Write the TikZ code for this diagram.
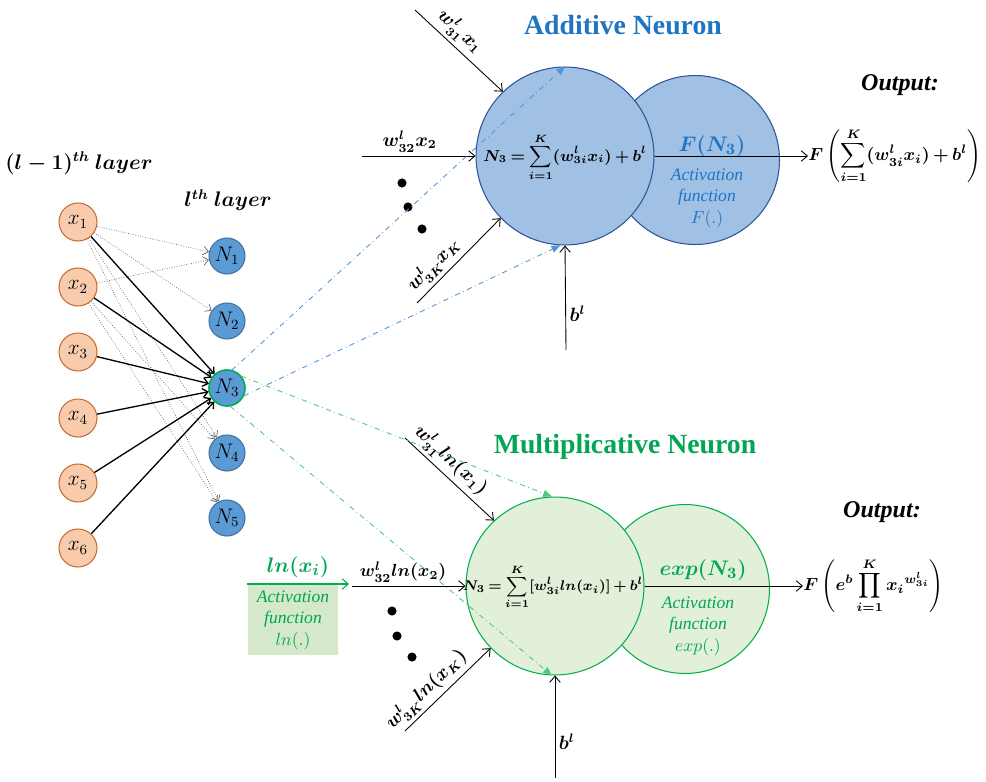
\documentclass[tikz,border=0pt]{standalone}
\usepackage{amsmath}
\usepackage{amssymb}
\usepackage{fontspec}
\setmainfont{Liberation Serif}
\usetikzlibrary{arrows.meta}

\definecolor{inorange}{RGB}{248,203,173}
\definecolor{inbrown}{RGB}{197,110,50}
\definecolor{nblue}{RGB}{91,155,213}
\definecolor{nbluedark}{RGB}{65,113,156}
\definecolor{addfill}{RGB}{160,192,228}
\definecolor{adddraw}{RGB}{47,85,151}
\definecolor{addtext}{RGB}{31,117,196}
\definecolor{dashblue}{RGB}{80,150,215}
\definecolor{mulfill}{RGB}{226,240,217}
\definecolor{muldraw}{RGB}{0,176,80}
\definecolor{multext}{RGB}{0,166,81}
\definecolor{dashgreen}{RGB}{80,200,125}
\definecolor{lnfill}{RGB}{213,232,202}

\newcommand{\tightmu}{\thickmuskip=3.5mu\relax\medmuskip=3mu\relax\displaystyle}

\begin{document}
\begin{tikzpicture}[x=0.02cm,y=-0.02cm,
  xnode/.style={circle,draw=inbrown,fill=inorange,line width=0.6pt,minimum size=0.76cm,inner sep=0pt,font=\fontsize{12}{14}\selectfont},
  nnode/.style={circle,draw=nbluedark,fill=nblue,line width=0.6pt,minimum size=0.72cm,inner sep=0pt,font=\fontsize{12}{14}\selectfont},
  thinarr/.style={-{Straight Barb[length=3pt,width=5pt]},black!60,densely dotted,line width=0.4pt},
  mainarr/.style={-{Straight Barb[length=3pt,width=5pt]},black,line width=0.75pt},
  inarr/.style={-{Straight Barb[length=3.5pt,width=6pt]},black,line width=0.5pt},
  dashto/.style={-{Triangle[length=5pt,width=4pt]},dash dot,line width=0.5pt},
  bigcirc/.style={circle,line width=0.6pt,inner sep=0pt},
  lab/.style={font=\boldmath\fontsize{10.5}{12}\selectfont,inner sep=2pt},
  sumlab/.style={font=\boldmath\fontsize{8.6}{10}\selectfont,inner sep=0pt},
  outfml/.style={font=\boldmath\fontsize{10}{12}\selectfont,inner sep=0pt,anchor=west},
  fnlab/.style={font=\boldmath\fontsize{12.5}{14}\selectfont},
  actlab/.style={font=\itshape\fontsize{10}{12.2}\selectfont,align=center},
  titlelab/.style={font=\bfseries\fontsize{15.8}{18}\selectfont},
  outlab/.style={font=\bfseries\itshape\fontsize{13.7}{16}\selectfont},
  layerlab/.style={font=\boldmath\fontsize{11.5}{14}\selectfont}]
\useasboundingbox (0,0) rectangle (986,781);

% previous and current layer
\node[layerlab] (prevlayer) at (79,163) {$(l-1)^{th}\ layer$};
\node[layerlab] (curlayer) at (228,200) {$l^{th}\ layer$};
\foreach \i/\yy in {1/222,2/287,3/352,4/418,5/483,6/548}
  \node[xnode] (x\i) at (78,\yy) {$x_{\i}$};
\foreach \i/\yy in {1/256,2/321,3/388,4/453,5/518}
  \node[nnode] (n\i) at (227,\yy) {$N_{\i}$};
\node[nnode,draw=muldraw,line width=0.9pt] at (n3) {$N_3$};

\foreach \a/\b in {1/1,1/2,1/4,1/5,2/1,2/4,2/5}
  \draw[thinarr] (x\a) -- (n\b);
\foreach \a in {1,...,6}
  \draw[mainarr] (x\a) -- (n3);

% additive neuron
\node[bigcirc,draw=adddraw,fill=addfill,minimum size=3.38cm] (addact) at (695,160) {};
\node[bigcirc,draw=adddraw,fill=addfill,minimum size=3.56cm] (addsum) at (565,156) {};
\node[sumlab] (addeq) at (565,157) {$\tightmu N_3=\sum_{i=1}^{K}(w^l_{3i}x_i)+b^l$};
\node[fnlab,text=addtext] (addfn) at (712,146) {$F(N_3)$};
\node[actlab,text=addtext] (addfntext) at (707,198) {Activation\\function\\$F(.)$};
\node[titlelab,text=addtext] (addtitle) at (623,25) {Additive Neuron};
\node[outlab] (addoutlbl) at (900,85) {Output:};
\node[outfml] (addout) at (808,156) {$\tightmu F\left(\sum_{i=1}^{K}(w^l_{3i}x_i)+b^l\right)$};
\draw[inarr] (addsum.east) -- (addout.west);

\coordinate (ain1) at (415,10);
\coordinate (ain2) at (362,156);
\coordinate (ainK) at (417,303);
\coordinate (abias) at (566,350);
\draw[inarr] (ain1) -- node[lab,sloped,above,pos=0.4] {$w^l_{31}x_1$} (addsum.134);
\draw[inarr] (ain2) -- node[lab,above,pos=0.42] {$w^l_{32}x_2$} (addsum.west);
\draw[inarr] (ainK) -- node[lab,sloped,above,pos=0.33] {$w^l_{3K}x_K$} (addsum.224);
\draw[inarr] (abias) -- node[lab,right,pos=0.35] {$b^l$} (addsum.south);
\foreach \px/\py in {402/183,408/207,422/229}
  \fill (\px,\py) circle[radius=2.6pt];

% multiplicative neuron
\node[bigcirc,draw=muldraw,fill=mulfill,minimum size=3.38cm] (mulact) at (685,589) {};
\node[bigcirc,draw=muldraw,fill=mulfill,minimum size=3.56cm] (mulsum) at (555,586) {};
\node[sumlab,font=\boldmath\fontsize{7.9}{9}\selectfont] (muleq) at (553,587) {$\tightmu N_3=\sum_{i=1}^{K}[w^l_{3i}ln(x_i)]+b^l$};
\node[fnlab,text=multext] (mulfn) at (703,570) {$exp(N_3)$};
\node[actlab,text=multext] (mulfntext) at (698,626) {Activation\\function\\$exp(.)$};
\node[titlelab,text=multext] (multitle) at (625,447) {Multiplicative Neuron};
\node[outlab] (muloutlbl) at (882,512) {Output:};
\node[outfml] (mulout) at (803,586) {$\tightmu F\left(e^b\prod_{i=1}^{K}{x_i}^{w^l_{3i}}\right)$};
\draw[inarr] (mulsum.east) -- (mulout.west);

\node[fill=lnfill,minimum width=1.8cm,minimum height=1.4cm,actlab,text=multext] (lnbox) at (293,620) {Activation\\function\\$ln(.)$};
\coordinate (lnin) at (247,584);
\coordinate (lnout) at (349,584);
\draw[inarr,draw=muldraw,line width=0.6pt] (lnin) -- node[fnlab,text=multext,above] {$ln(x_i)$} (lnout);

\coordinate (min1) at (405,438);
\coordinate (min2) at (352,586);
\coordinate (minK) at (405,731);
\coordinate (mbias) at (555,778);
\draw[inarr] (min1) -- node[lab,sloped,above,pos=0.4] {$w^l_{31}ln(x_1)$} (mulsum.133);
\draw[inarr] (min2) -- node[lab,above,pos=0.45,font=\boldmath\fontsize{10}{12}\selectfont] {$w^l_{32}ln(x_2)$} (mulsum.west);
\draw[inarr] (minK) -- node[lab,sloped,above,pos=0.37] {$w^l_{3K}ln(x_K)$} (mulsum.224);
\draw[inarr] (mbias) -- node[lab,right,pos=0.35] {$b^l$} (mulsum.south);
\foreach \px/\py in {392/611,397/636,412/657}
  \fill (\px,\py) circle[radius=2.6pt];

% links from N3 to both neurons
\draw[dashto,dashblue] (n3.75) -- (addsum.north);
\draw[dashto,dashblue] (n3.-25) -- (addsum.267);
\draw[dashto,dashgreen] (n3.40) -- (mulsum.92);
\draw[dashto,dashgreen] (n3.-80) -- (mulsum.268);
\end{tikzpicture}
\end{document}
